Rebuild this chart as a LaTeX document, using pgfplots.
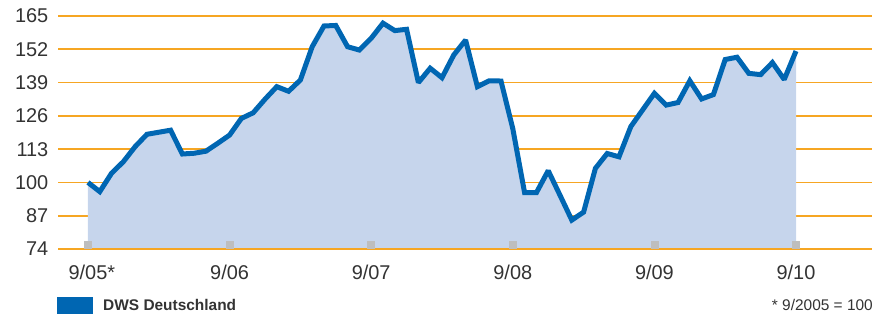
\documentclass[border=0pt]{standalone}
\usepackage{pgfplots}
\pgfplotsset{compat=1.18}
\usepackage{pgfplotstable}
\usepackage{fontspec}
\setmainfont{Liberation Sans}
\definecolor{gridorange}{HTML}{F6A623}
\definecolor{dwsblue}{HTML}{0066B2}
\definecolor{areafill}{HTML}{C6D5EC}
\definecolor{sqgray}{HTML}{BEBEBE}
\definecolor{txt}{HTML}{333333}
\pgfplotstableread{
m v
0 100
1 96.4
2 103.6
3 108.1
4 114
5 118.8
6 119.6
7 120.4
8 111.1
9 111.4
10 112.2
11 115.3
12 118.5
13 125
14 127.2
15 132.5
16 137.4
17 135.6
18 140
19 153
20 161.1
21 161.3
22 153
23 151.7
24 156.3
25 162.2
26 159.3
27 159.8
28 139
29 144.6
30 140.9
31 149.8
32 155.6
33 137.4
34 139.7
35 139.6
36 121
37 96
38 96
39 104.6
40 95
41 85.3
42 88.4
43 105.5
44 111.3
45 110
46 121.8
47 128.3
48 134.8
49 130.2
50 131.2
51 139.7
52 132.6
53 134.3
54 148
55 148.9
56 142.6
57 142.1
58 146.8
59 140.2
60 151.3
}\datatable
\pgfplotstableread{
m v
0 75.6
12 75.6
24 75.6
36 75.6
48 75.6
60 75.6
}\squares
\begin{document}
\begin{tikzpicture}
\useasboundingbox (0,0) rectangle (885bp,318bp);
\begin{axis}[
  at={(58bp,69bp)}, anchor=south west,
  scale only axis, width=814bp, height=233bp,
  xmin=-2.54, xmax=66.44, ymin=74, ymax=165,
  axis line style={draw=none},
  major tick length=0pt,
  clip=false,
  ytick={74,87,100,113,126,139,152,165},
  xtick={0,12,24,36,48,60},
  xticklabels={9/05\rlap{*},9/06,9/07,9/08,9/09,9/10},
  ymajorgrids,
  grid style={gridorange, line width=1.6bp},
  /pgf/number format/assume math mode=true,
  tick label style={font=\fontsize{20}{24}\selectfont, text=txt},
  yticklabel style={anchor=east, inner sep=0pt, xshift=-9.5bp},
  xticklabel style={anchor=north, inner sep=0pt, yshift=-16bp},
]
\addplot[fill=areafill, draw=none] table[x=m,y=v] {\datatable} -- (axis cs:60,74) -- (axis cs:0,74) -- cycle;
\addplot[gridorange, line width=1.6bp] coordinates {(-2.54,74) (66.44,74)};
\addplot[only marks, mark=square*, mark size=3.5bp, color=sqgray] table[x=m,y=v] {\squares};
\addplot[dwsblue, line width=5bp, line join=miter, miter limit=2] table[x=m,y=v] {\datatable};
\end{axis}
\fill[dwsblue] (56.7bp,3.7bp) rectangle (92.7bp,21.3bp);
\node[anchor=base west, inner sep=0pt, text=txt, font=\bfseries\fontsize{15.5}{18}\selectfont] at (103bp,7.3bp) {DWS Deutschland};
\node[anchor=base east, inner sep=0pt, text=txt, font=\fontsize{15.5}{18}\selectfont] at (873bp,8bp) {* 9/2005 = 100};
\end{tikzpicture}
\end{document}
